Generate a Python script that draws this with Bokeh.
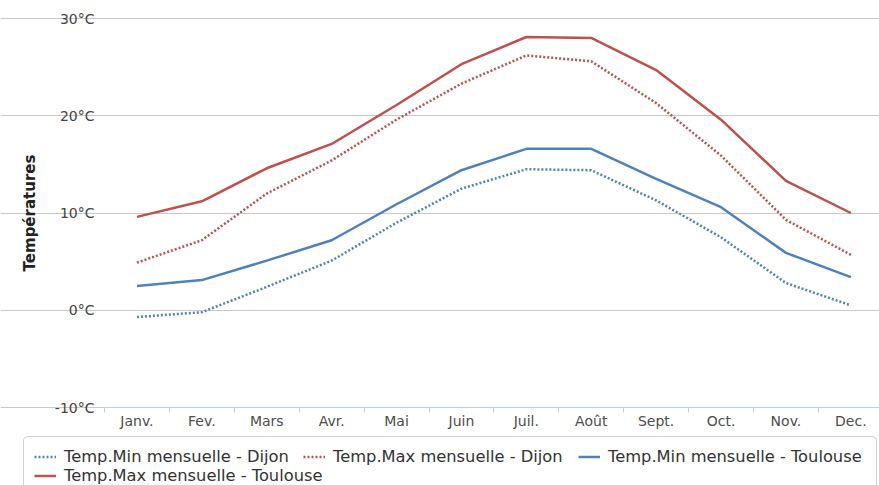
from bokeh.plotting import figure
from bokeh.models import Range1d, FixedTicker, Legend, LegendItem
from bokeh.embed import file_html
from bokeh.resources import INLINE

months = ["Janv.", "Fev.", "Mars", "Avr.", "Mai", "Juin", "Juil.", "Août",
          "Sept.", "Oct.", "Nov.", "Dec."]
dijon_min = [-0.7, -0.2, 2.4, 5.1, 9.0, 12.5, 14.5, 14.4, 11.3, 7.5, 2.8, 0.5]
dijon_max = [4.9, 7.2, 12.0, 15.4, 19.6, 23.3, 26.2, 25.6, 21.3, 15.9, 9.3, 5.7]
toulouse_min = [2.5, 3.1, 5.1, 7.2, 10.9, 14.4, 16.6, 16.6, 13.5, 10.6, 5.9, 3.4]
toulouse_max = [9.6, 11.2, 14.6, 17.1, 21.1, 25.3, 28.1, 28.0, 24.7, 19.6, 13.3, 10.0]
y_ticks = [-10, 0, 10, 20, 30]
series_labels = ["Temp.Min mensuelle - Dijon", "Temp.Max mensuelle - Dijon",
                 "Temp.Min mensuelle - Toulouse", "Temp.Max mensuelle - Toulouse"]

BLUE = "#4F81BD"
RED = "#C0504D"
FONT = "DejaVu Sans"

W, H = 879, 485
# pixel geometry of the plotting area (layout only)
X0_PX, DX_PX = 104.0, 64.9          # left edge of category area, px per category
Y30_PX, YM10_PX = 18.0, 407.0       # pixel rows of 30°C and -10°C
ny = (YM10_PX - Y30_PX) / 40.0

x_start = -0.5 - X0_PX / DX_PX
x_end = x_start + W / DX_PX
y_top = 30 + Y30_PX / ny
y_bot = -10 - (H - YM10_PX) / ny

x = list(range(len(months)))

p = figure(width=W, height=H, output_backend="svg", toolbar_location=None,
           x_range=Range1d(x_start, x_end), y_range=Range1d(y_bot, y_top),
           min_border=0)
p.outline_line_color = None
p.background_fill_color = "white"

# x axis drawn at -10
xa = p.xaxis[0]
xa.fixed_location = -10
xa.bounds = (-0.5, x_end)
xa.ticker = FixedTicker(ticks=x, minor_ticks=[i - 0.5 for i in range(len(months) + 1)])
xa.major_label_overrides = {i: m for i, m in enumerate(months)}
xa.major_tick_line_color = None
xa.major_tick_out = 0
xa.major_tick_in = 0
xa.minor_tick_line_color = "#C0D0E0"
xa.minor_tick_out = 5
xa.minor_tick_in = 0
xa.axis_line_color = "#C0D0E0"
xa.major_label_standoff = 0
xa.major_label_text_font = FONT
xa.major_label_text_font_size = "14px"
xa.major_label_text_color = "#4D4D4D"
p.xgrid.visible = False

# y axis drawn at the left edge of the category area
ya = p.yaxis[0]
ya.fixed_location = -0.5
ya.bounds = (-10, 30)
ya.ticker = FixedTicker(ticks=y_ticks)
ya.major_label_overrides = {v: f"{v}°C" for v in y_ticks}
ya.axis_line_color = None
ya.major_tick_line_color = None
ya.minor_tick_line_color = None
ya.major_tick_out = 0
ya.major_label_standoff = 10
ya.major_label_text_font = FONT
ya.major_label_text_font_size = "14px"
ya.major_label_text_color = "#444444"
ya.axis_label = "Températures"
ya.axis_label_text_font = FONT
ya.axis_label_text_font_style = "bold"
ya.axis_label_text_font_size = "15px"
ya.axis_label_text_color = "#222222"
ya.axis_label_standoff = 13
p.ygrid.grid_line_color = "#C8C8C8"
p.ygrid.grid_line_width = 1
p.ygrid.bounds = (-0.5, x_end)

r1 = p.line(x, dijon_min, line_color=BLUE, line_width=2.5, line_dash="2 2")
r2 = p.line(x, dijon_max, line_color=RED, line_width=2.5, line_dash="2 2")
r3 = p.line(x, toulouse_min, line_color=BLUE, line_width=2.5)
r4 = p.line(x, toulouse_max, line_color=RED, line_width=2.5)
# invisible renderer that only carries the legend frame
frame_r = p.line(x, toulouse_max, line_alpha=0)

# legend frame (rounded box, bottom cut by the picture edge as in the original)
BOX_L, BOX_T, BOX_W, BOX_H = 23, 438, 852, 57
box = Legend(items=[LegendItem(label=" ", renderers=[frame_r])],
             location=(BOX_L, H - (BOX_T + BOX_H)),
             padding=0, margin=0, spacing=0,
             glyph_width=1, glyph_height=BOX_H, label_height=BOX_H,
             label_width=BOX_W - 1, label_standoff=0,
             label_text_font_size="1px",
             border_line_color="#A0A0A0", border_line_width=1,
             background_fill_color="white", background_fill_alpha=1)
if "border_radius" in Legend.properties():
    box.border_radius = 5
p.add_layout(box)

# individual legend entries: (glyph left px, row centre px)
entry_pos = [(34, 456), (303, 456), (578, 456), (34, 475)]
ROW_H = 19
for lab, r, (gx, cy) in zip(series_labels, [r1, r2, r3, r4], entry_pos):
    lg = Legend(items=[LegendItem(label=lab, renderers=[r])],
                location=(gx, H - (cy + ROW_H / 2)),
                padding=0, margin=0, spacing=0,
                glyph_width=22, glyph_height=ROW_H, label_height=ROW_H,
                label_standoff=8,
                label_text_font=FONT, label_text_font_size="16.3px",
                label_text_color="#333333",
                border_line_color=None, background_fill_alpha=0)
    p.add_layout(lg)

open("out.html", "w").write(file_html(p, INLINE))
